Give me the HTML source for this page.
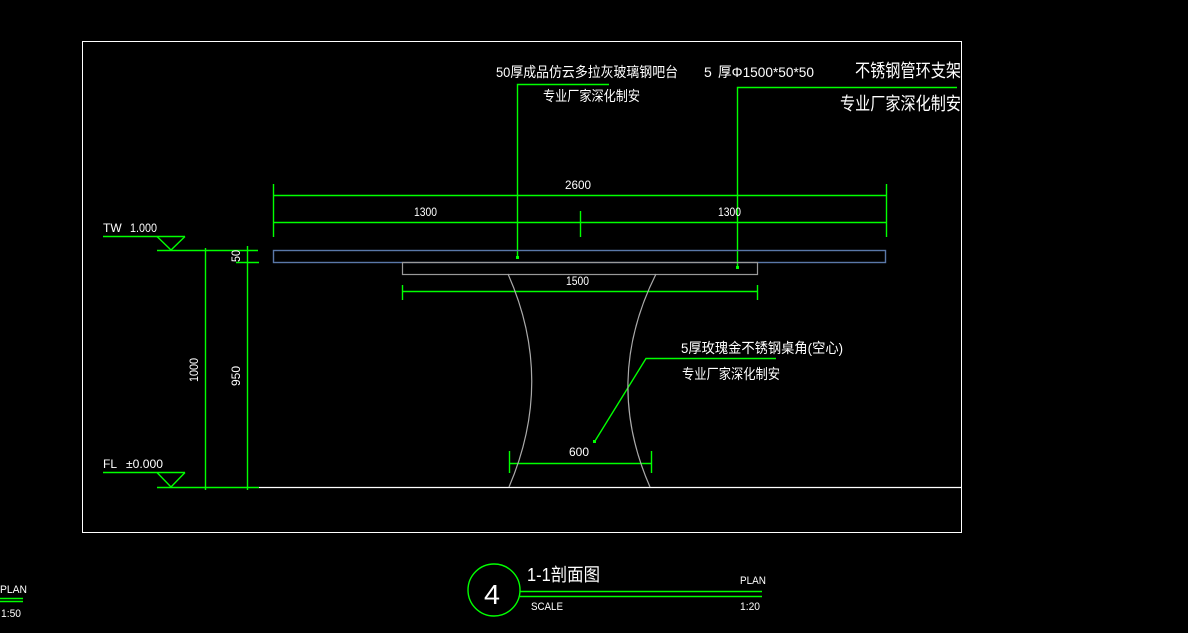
<!DOCTYPE html>
<html><head><meta charset="utf-8"><style>html,body{margin:0;padding:0;background:#000;}svg{display:block}</style></head>
<body>
<svg width="1188" height="633" viewBox="0 0 1188 633" xmlns="http://www.w3.org/2000/svg" font-family="'Liberation Sans','Noto Sans CJK SC',sans-serif" fill="#fff">
<rect x="0" y="0" width="1188" height="633" fill="#000"/>
<rect x="82.5" y="41.5" width="879" height="491" fill="none" stroke="#fff" stroke-width="1"/>
<line x1="259" y1="487.5" x2="962" y2="487.5" stroke="#fff" stroke-width="1.2"/>
<g stroke="#0f0" stroke-width="1.4" fill="none">
<line x1="157" y1="487.5" x2="259" y2="487.5"/>
<line x1="103" y1="236.5" x2="185" y2="236.5"/>
<polyline points="157,236.5 171,250 185,236.5"/>
<line x1="157" y1="250.5" x2="258" y2="250.5"/>
<line x1="236" y1="262.5" x2="259" y2="262.5"/>
<line x1="103" y1="472.5" x2="185" y2="472.5"/>
<polyline points="157,472.5 171,487 185,472.5"/>
<line x1="205.5" y1="248" x2="205.5" y2="490"/>
<line x1="247.5" y1="246" x2="247.5" y2="490"/>
<line x1="273" y1="195.5" x2="886" y2="195.5"/>
<line x1="273" y1="222.5" x2="886" y2="222.5"/>
<line x1="273.5" y1="184" x2="273.5" y2="237"/>
<line x1="886.5" y1="184" x2="886.5" y2="237"/>
<line x1="580.5" y1="211" x2="580.5" y2="237"/>
<line x1="402" y1="291.5" x2="757" y2="291.5"/>
<line x1="402.5" y1="285" x2="402.5" y2="300"/>
<line x1="757.5" y1="285" x2="757.5" y2="300"/>
<line x1="509" y1="463.5" x2="651" y2="463.5"/>
<line x1="509.5" y1="451" x2="509.5" y2="473"/>
<line x1="651.5" y1="451" x2="651.5" y2="473"/>
<polyline points="609,84.5 517.5,84.5 517.5,257"/>
<polyline points="957,87.5 737.5,87.5 737.5,267"/>
<polyline points="776,358.5 646,358.5 595,441"/>
<circle cx="494" cy="590" r="26"/>
<line x1="520" y1="591.5" x2="762" y2="591.5"/>
<line x1="520" y1="596.5" x2="762" y2="596.5"/>
<line x1="0" y1="598.5" x2="23" y2="598.5"/>
<line x1="0" y1="601.5" x2="23" y2="601.5"/>
</g>
<g fill="#0f0"><rect x="516" y="256" width="3" height="3"/><rect x="736" y="266" width="3" height="3"/><rect x="593" y="440" width="3" height="3"/></g>
<rect x="273.5" y="250.5" width="612" height="12" fill="none" stroke="#5a78a8" stroke-width="1.4"/>
<rect x="402.5" y="262.5" width="355" height="12" fill="none" stroke="#999" stroke-width="1.2"/>
<g stroke="#aaa" fill="none" stroke-width="1.2">
<path d="M508,274 Q555,380 509,487"/>
<path d="M656,274 Q603,380 650,487"/>
</g>
<g font-size="12" xml:space="preserve">
<text x="103" y="232">TW</text><text x="130" y="232" textLength="27" lengthAdjust="spacingAndGlyphs">1.000</text>
<text x="103" y="468">FL</text><text x="126" y="468" textLength="37" lengthAdjust="spacingAndGlyphs">±0.000</text>
<text x="565" y="189" textLength="26" lengthAdjust="spacingAndGlyphs">2600</text>
<text x="414" y="216" textLength="23" lengthAdjust="spacingAndGlyphs">1300</text>
<text x="718" y="216" textLength="23" lengthAdjust="spacingAndGlyphs">1300</text>
<text x="566" y="285" textLength="23" lengthAdjust="spacingAndGlyphs">1500</text>
<text x="569" y="456" textLength="20" lengthAdjust="spacingAndGlyphs">600</text>
<text transform="translate(240,262) rotate(-90)" textLength="12" lengthAdjust="spacingAndGlyphs">50</text>
<text transform="translate(240,386) rotate(-90)" textLength="20" lengthAdjust="spacingAndGlyphs">950</text>
<text transform="translate(198,382) rotate(-90)" textLength="24" lengthAdjust="spacingAndGlyphs">1000</text>
</g>
<g font-size="14">
<text x="496" y="77" textLength="182" lengthAdjust="spacingAndGlyphs">50厚成品仿云多拉灰玻璃钢吧台</text>
<text x="543" y="101" textLength="97" lengthAdjust="spacingAndGlyphs">专业厂家深化制安</text>
<text x="704" y="77">5</text><text x="718" y="77" textLength="96" lengthAdjust="spacingAndGlyphs">厚Φ1500*50*50</text>
<text x="681" y="353" textLength="162" lengthAdjust="spacingAndGlyphs">5厚玫瑰金不锈钢桌角(空心)</text>
<text x="682" y="379" textLength="98" lengthAdjust="spacingAndGlyphs">专业厂家深化制安</text>
</g>
<g font-size="18">
<text x="855" y="77" textLength="106" lengthAdjust="spacingAndGlyphs">不锈钢管环支架</text>
<text x="840" y="110" textLength="121" lengthAdjust="spacingAndGlyphs">专业厂家深化制安</text>
<text x="527" y="581" textLength="73" lengthAdjust="spacingAndGlyphs">1-1剖面图</text>
</g>
<text x="484" y="604" font-size="28" textLength="16" lengthAdjust="spacingAndGlyphs">4</text>
<g font-size="11">
<text x="740" y="584" textLength="26" lengthAdjust="spacingAndGlyphs">PLAN</text>
<text x="531" y="610" textLength="32" lengthAdjust="spacingAndGlyphs">SCALE</text>
<text x="740" y="610" textLength="20" lengthAdjust="spacingAndGlyphs">1:20</text>
<text x="0" y="593" textLength="27" lengthAdjust="spacingAndGlyphs">PLAN</text>
<text x="1" y="617" textLength="20" lengthAdjust="spacingAndGlyphs">1:50</text>
</g>
</svg>
</body></html>
